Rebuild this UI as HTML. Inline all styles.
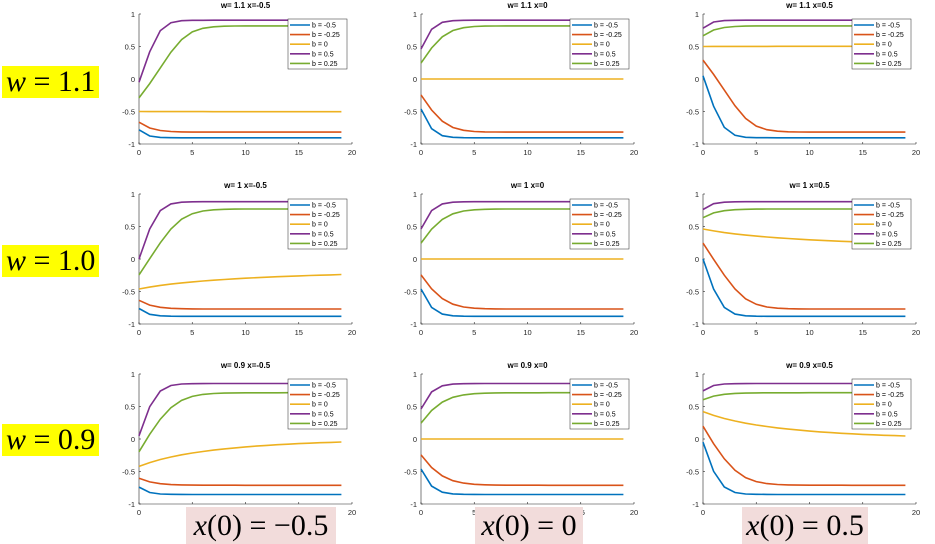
<!DOCTYPE html>
<html><head><meta charset="utf-8"><style>
body{margin:0;background:#fff;width:935px;height:544px;overflow:hidden;position:relative;font-family:"Liberation Sans",sans-serif}
.lab{position:absolute;background:#ffff00;font-family:"Liberation Serif",serif;font-size:30px;line-height:32px;padding:0 4px;color:#000;white-space:nowrap}
.bl{position:absolute;background:#f2dcdb;font-family:"Liberation Serif",serif;font-size:30px;line-height:37px;text-align:center;color:#000;white-space:nowrap}
svg{position:absolute;left:0;top:0}
</style></head><body>
<svg id="s" width="935" height="544" xmlns="http://www.w3.org/2000/svg"></svg>
<div class="lab" style="left:2px;top:66px;width:89px"><i>w</i> = 1.1</div>
<div class="lab" style="left:2px;top:245px;width:89px"><i>w</i> = 1.0</div>
<div class="lab" style="left:2px;top:424px;width:89px"><i>w</i> = 0.9</div>
<div class="bl" style="left:186px;top:507px;width:150px"><i>x</i>(0) = −0.5</div>
<div class="bl" style="left:475px;top:507px;width:108px"><i>x</i>(0) = 0</div>
<div class="bl" style="left:742px;top:507px;width:126px"><i>x</i>(0) = 0.5</div>
<script>
var s=document.getElementById('s'),h='';
var ws=[1.1,1,0.9],xs=[-0.5,0,0.5],X0=[139,421,703],Y1=[14,194,374];
var bs=[-0.5,-0.25,0,0.5,0.25],cols=['#0072BD','#D95319','#EDB120','#7E2F8E','#77AC30'];
var W=213,H=130;
for(var r=0;r<3;r++)for(var c=0;c<3;c++){
 var x0=X0[c],y1=Y1[r],yb=y1+H;
 function px(t){return x0+t/20*W}function py(v){return y1+(1-v)/2*H}
 h+='<text x="'+(x0+W/2)+'" y="'+(y1-6)+'" font-size="8" font-weight="bold" text-anchor="middle">w= '+ws[r]+' x='+xs[c]+'</text>';
 h+='<path d="M'+x0+' '+y1+'V'+yb+'H'+(x0+W)+'" stroke="#262626" stroke-width="0.6" fill="none"/>';
 for(var i=0;i<=4;i++){var v=1-i*0.5,y=py(v);h+='<line x1="'+x0+'" x2="'+(x0+2)+'" y1="'+y+'" y2="'+y+'" stroke="#262626" stroke-width="0.6"/><text x="'+(x0-4)+'" y="'+(y+3)+'" font-size="7.5" fill="#262626" text-anchor="end">'+(v==0?'0':v)+'</text>';}
 for(var t=0;t<=20;t+=5){var x=px(t);h+='<line x1="'+x+'" x2="'+x+'" y1="'+yb+'" y2="'+(yb-2)+'" stroke="#262626" stroke-width="0.6"/><text x="'+x+'" y="'+(yb+11)+'" font-size="7.5" fill="#262626" text-anchor="middle">'+t+'</text>';}
 for(var k=0;k<5;k++){var xv=xs[c],p='';for(var t=0;t<20;t++){xv=Math.tanh(ws[r]*xv+bs[k]);p+=(t?'L':'M')+px(t).toFixed(1)+' '+py(xv).toFixed(1);}
  h+='<path d="'+p+'" stroke="'+cols[k]+'" stroke-width="1.6" fill="none"/>';}
 var lx=x0+149,ly=y1+5;
 h+='<rect x="'+lx+'" y="'+ly+'" width="59" height="50" fill="#fff" stroke="#262626" stroke-width="0.5"/>';
 for(var k=0;k<5;k++){var yy=ly+6+k*9.6;h+='<line x1="'+(lx+2)+'" x2="'+(lx+22)+'" y1="'+yy+'" y2="'+yy+'" stroke="'+cols[k]+'" stroke-width="1.6"/><text x="'+(lx+24)+'" y="'+(yy+2.5)+'" font-size="7" fill="#000">b = '+bs[k]+'</text>';}
}
s.innerHTML=h;
</script>
</body></html>
